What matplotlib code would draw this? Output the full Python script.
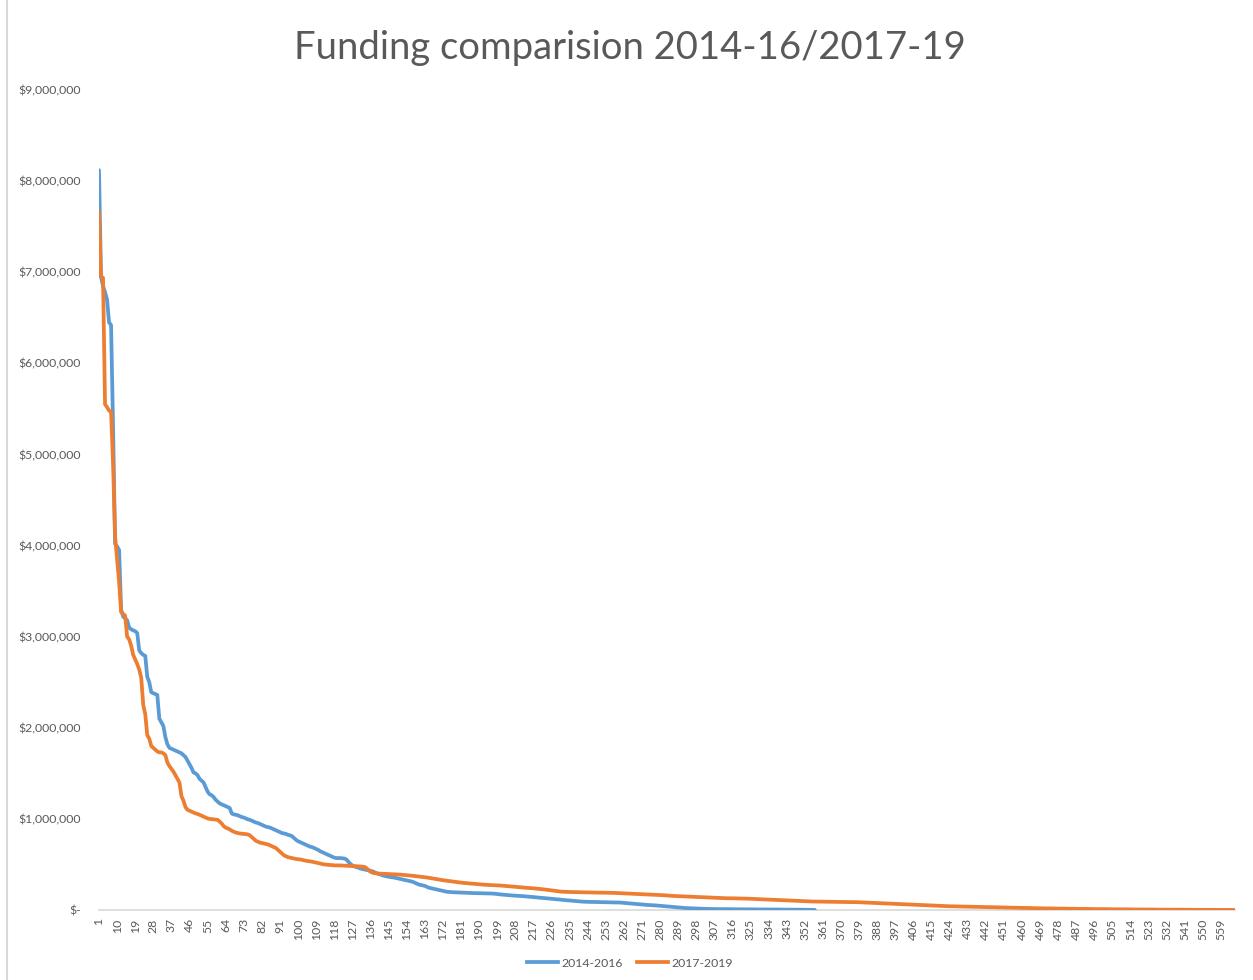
import matplotlib
matplotlib.use("Agg")
import matplotlib.pyplot as plt
from matplotlib.ticker import FuncFormatter, FixedLocator
from matplotlib.lines import Line2D

# Funding values (thousands of dollars), ranked descending
funding_2014_2016 = [
    8120, 6950, 6850, 6780, 6700, 6450, 6420, 5300, 4020, 3990,
    3950, 3300, 3220, 3200, 3180, 3100, 3080, 3070, 3060, 3040,
    2850, 2820, 2800, 2790, 2560, 2500, 2390, 2380, 2370, 2360,
    2100, 2060, 2020, 1900, 1820, 1780, 1770, 1760, 1750, 1740,
    1730, 1720, 1700, 1680, 1640, 1600, 1560, 1510, 1500, 1480,
    1440, 1420, 1400, 1350, 1300, 1270, 1260, 1240, 1210, 1190,
    1170, 1160, 1150, 1140, 1130, 1120, 1060, 1050, 1045, 1040,
    1030, 1020, 1015, 1005, 995, 990, 980, 970, 960, 955,
    945, 935, 925, 915, 910, 905, 895, 885, 875, 865,
    855, 845, 840, 835, 825, 820, 810, 790, 770, 755,
    745, 735, 725, 715, 705, 695, 690, 680, 670, 660,
    645, 635, 625, 615, 605, 595, 585, 575, 570, 570,
    570, 568, 565, 555, 530, 505, 490, 480, 470, 465,
    455, 450, 445, 440, 435, 430, 425, 415, 405, 395,
    390, 380, 375, 370, 365, 362, 358, 355, 350, 345,
    340, 335, 330, 325, 320, 315, 310, 300, 290, 280,
    275, 270, 265, 255, 245, 240, 235, 230, 225, 220,
    215, 210, 205, 200, 198, 196, 195, 194, 193, 192,
    191, 190, 189, 188, 187, 186, 186, 185, 185, 184,
    184, 183, 183, 182, 182, 181, 180, 178, 175, 172,
    170, 168, 165, 163, 161, 160, 158, 157, 156, 155,
    154, 152, 150, 148, 146, 144, 142, 140, 138, 136,
    134, 132, 130, 128, 126, 124, 122, 120, 118, 115,
    112, 110, 108, 106, 104, 102, 100, 98, 96, 94,
    92, 91, 90, 90, 89, 89, 88, 88, 87, 87,
    86, 86, 85, 85, 84, 84, 83, 83, 82, 82,
    80, 78, 76, 74, 72, 70, 68, 66, 64, 62,
    60, 58, 56, 55, 54, 53, 52, 50, 48, 46,
    44, 42, 40, 38, 36, 34, 32, 30, 28, 26,
    24, 22, 21, 20, 19, 18, 17, 16, 15, 14,
    13, 13, 12, 12, 11, 11, 10, 10, 10, 10,
    9, 9, 9, 9, 9, 8, 8, 8, 8, 8,
    8, 7, 7, 7, 7, 7, 7, 6, 6, 6,
    6, 6, 6, 5, 5, 5, 5, 5, 5, 5,
    4, 4, 4, 4, 4, 4, 3, 3, 3, 3,
    3, 2, 2, 2, 2, 1, 1,
]

funding_2017_2019 = [
    7660, 6950, 6940, 5550, 5520, 5480, 5470, 4900, 4100, 3850,
    3600, 3270, 3250, 3230, 3000, 2970, 2900, 2800, 2750, 2700,
    2640, 2550, 2250, 2150, 1920, 1880, 1800, 1780, 1760, 1740,
    1730, 1730, 1720, 1700, 1620, 1580, 1550, 1520, 1480, 1440,
    1400, 1250, 1200, 1130, 1100, 1090, 1080, 1070, 1060, 1055,
    1045, 1035, 1025, 1015, 1005, 1000, 998, 995, 992, 990,
    970, 950, 920, 905, 895, 885, 870, 860, 850, 845,
    840, 838, 835, 832, 830, 820, 800, 780, 760, 750,
    740, 735, 730, 725, 720, 710, 700, 690, 680, 660,
    640, 620, 600, 590, 580, 575, 570, 565, 560, 558,
    555, 550, 545, 540, 537, 533, 530, 525, 520, 515,
    510, 505, 500, 498, 495, 493, 491, 490, 490, 490,
    489, 488, 487, 486, 485, 484, 483, 482, 481, 480,
    478, 476, 474, 460, 440, 420, 410, 405, 402, 400,
    399, 398, 397, 396, 395, 394, 393, 392, 391, 390,
    388, 386, 385, 383, 380, 378, 375, 373, 370, 368,
    365, 362, 360, 357, 354, 350, 346, 342, 338, 334,
    330, 327, 324, 321, 318, 315, 312, 309, 306, 303,
    300, 298, 296, 294, 292, 290, 288, 286, 284, 282,
    280, 278, 277, 276, 275, 274, 273, 272, 271, 270,
    268, 266, 264, 262, 260, 258, 256, 254, 252, 250,
    248, 246, 244, 242, 241, 240, 238, 236, 234, 232,
    230, 227, 224, 221, 218, 215, 212, 209, 206, 203,
    201, 200, 199, 198, 198, 197, 197, 196, 196, 195,
    195, 194, 194, 193, 193, 192, 192, 191, 191, 190,
    190, 190, 189, 189, 189, 188, 188, 187, 186, 185,
    184, 183, 182, 181, 180, 179, 178, 177, 176, 175,
    174, 173, 172, 171, 170, 169, 168, 167, 166, 165,
    164, 162, 160, 158, 156, 155, 154, 153, 152, 151,
    150, 149, 148, 147, 146, 145, 144, 143, 142, 141,
    140, 139, 138, 137, 136, 135, 134, 133, 132, 131,
    130, 130, 129, 129, 128, 128, 128, 127, 127, 126,
    126, 125, 125, 124, 123, 122, 121, 120, 119, 118,
    117, 116, 115, 114, 113, 112, 111, 110, 109, 108,
    107, 106, 105, 104, 103, 102, 101, 100, 99, 98,
    97, 96, 95, 94, 94, 93, 93, 92, 92, 92,
    91, 91, 91, 90, 90, 90, 89, 89, 89, 88,
    88, 88, 87, 87, 87, 86, 86, 86, 85, 85,
    84, 83, 82, 81, 80, 79, 78, 77, 76, 75,
    74, 73, 72, 71, 70, 69, 68, 67, 66, 65,
    64, 63, 62, 61, 60, 59, 58, 57, 56, 55,
    54, 53, 52, 51, 50, 49, 48, 47, 46, 45,
    44, 43, 42, 41, 41, 40, 40, 39, 39, 38,
    38, 37, 37, 36, 36, 35, 35, 34, 34, 33,
    33, 32, 32, 31, 31, 30, 30, 29, 29, 28,
    28, 27, 27, 26, 26, 25, 25, 24, 24, 23,
    23, 22, 22, 21, 21, 20, 20, 19, 19, 18,
    18, 18, 17, 17, 17, 16, 16, 16, 15, 15,
    15, 14, 14, 14, 13, 13, 13, 12, 12, 12,
    12, 11, 11, 11, 10, 10, 10, 10, 9, 9,
    9, 9, 9, 8, 8, 8, 8, 8, 7, 7,
    7, 7, 7, 6, 6, 6, 6, 6, 6, 5,
    5, 5, 5, 5, 5, 4, 4, 4, 4, 4,
    4, 4, 3, 3, 3, 3, 3, 3, 3, 3,
    3, 3, 3, 2, 2, 2, 2, 2, 2, 2,
    2, 2, 2, 2, 2, 2, 1, 1, 1, 1,
    1, 1, 1, 1, 1, 0.5,
]

series_labels = ["2014-2016", "2017-2019"]
title_text = "Funding comparision 2014-16/2017-19"
y_ticks = [0, 1000000, 2000000, 3000000, 4000000, 5000000, 6000000, 7000000, 8000000, 9000000]

FONT = ["Lato", "DejaVu Sans"]
plt.rcParams["font.family"] = FONT
GRAY = "#595959"
BLUE = "#5B9BD5"
ORANGE = "#ED7D31"

fig = plt.figure(figsize=(12.53, 9.8), dpi=100)
ax = fig.add_axes([99 / 1253, 1 - 910 / 980, (1235 - 99) / 1253, (910 - 90) / 980])

n_cat = len(funding_2017_2019)
x_blue = list(range(1, len(funding_2014_2016) + 1))
x_orange = list(range(1, n_cat + 1))
y_blue = [v * 1000 for v in funding_2014_2016]
y_orange = [v * 1000 for v in funding_2017_2019]

ax.plot(x_blue, y_blue, color=BLUE, lw=2.7, solid_joinstyle="round", solid_capstyle="round",
        label=series_labels[0], zorder=3)
ax.plot(x_orange, y_orange, color=ORANGE, lw=2.7, solid_joinstyle="round", solid_capstyle="round",
        label=series_labels[1], zorder=4)

ax.set_xlim(1, n_cat)
ax.set_ylim(0, 9000000)

def money(v, pos):
    if v == 0:
        return "$-"
    return "${:,.0f}".format(v)

ax.yaxis.set_major_locator(FixedLocator(y_ticks))
ax.yaxis.set_major_formatter(FuncFormatter(money))
xt = list(range(1, n_cat + 1, 9))
ax.set_xticks(xt)
ax.set_xticklabels([str(t) for t in xt], rotation=90, fontsize=8.8, color=GRAY)
ax.tick_params(axis="x", length=0, pad=6)
ax.tick_params(axis="y", length=0, pad=13, labelsize=8.8, labelcolor=GRAY)

for s in ["top", "right", "left"]:
    ax.spines[s].set_visible(False)
ax.spines["bottom"].set_color("#D9D9D9")
ax.spines["bottom"].set_linewidth(1.2)
ax.spines["bottom"].set_zorder(1)

fig.text(630 / 1253, 1 - 48 / 980, title_text, ha="center", va="center", fontsize=27.5, color=GRAY)

handles = [Line2D([], [], color=BLUE, lw=2.7), Line2D([], [], color=ORANGE, lw=2.7)]
fig.legend(handles, series_labels, loc="center", bbox_to_anchor=(630 / 1253, 1 - 963 / 980), ncol=2,
           frameon=False, fontsize=8.8, handlelength=2.5, handletextpad=0.3, columnspacing=1.2,
           labelcolor=GRAY)

# chart area border (left edge visible)
fig.add_artist(Line2D([7 / 1253, 7 / 1253], [0, 1], transform=fig.transFigure, color="#D9D9D9", lw=1.5))

fig.savefig("out.png", dpi=100, facecolor="white")
